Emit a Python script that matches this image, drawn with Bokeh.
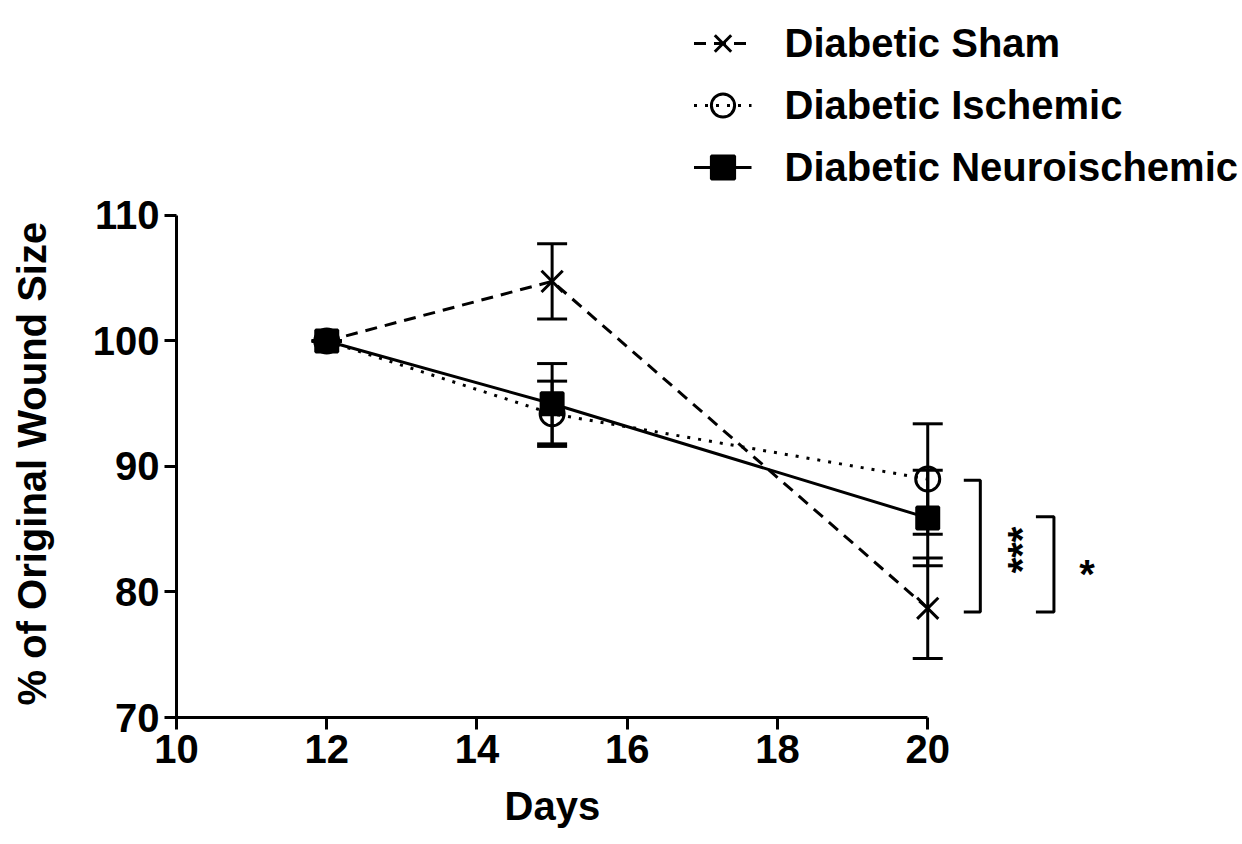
from bokeh.plotting import figure
from bokeh.models import (Range1d, FixedTicker, Whisker, TeeHead, ColumnDataSource,
                          Legend, LegendItem, Label, Title)
from bokeh.embed import file_html
from bokeh.resources import INLINE

# ---- data ----
days = [12, 15, 20]
sham_mean = [100.0, 104.75, 78.7]
sham_sem = [0.0, 3.0, 4.0]
isch_mean = [100.0, 94.2, 89.0]
isch_sem = [0.0, 2.6, 4.4]
neuro_mean = [100.0, 95.0, 85.9]
neuro_sem = [0.0, 3.2, 3.8]

x_ticks = [10, 12, 14, 16, 18, 20]
y_ticks = [70, 80, 90, 100, 110]
series_labels = ["Diabetic Sham", "Diabetic Ischemic", "Diabetic Neuroischemic"]
x_title = "Days"
y_title = "% of Original Wound Size"

# significance brackets (y from/to at day 20 comparisons)
bracket1 = [88.9, 78.4]
bracket2 = [86.0, 78.4]
sig_labels = ["***", "*"]

FONT = "Liberation Sans"
FS = "40px"

p = figure(width=1242, height=844, output_backend="svg", toolbar_location=None,
           x_range=Range1d(10, 24.19), y_range=Range1d(70, 126.33),
           min_border_left=176, min_border_right=0, min_border_top=10,
           min_border_bottom=127)
p.outline_line_color = None
p.grid.visible = False
p.background_fill_color = "white"

for ax in (p.xaxis[0], p.yaxis[0]):
    ax.axis_line_width = 3
    ax.major_tick_line_width = 3
    ax.major_tick_out = 12
    ax.major_tick_in = 0
    ax.minor_tick_line_color = None
    ax.major_label_text_font = FONT
    ax.major_label_text_font_style = "bold"
    ax.major_label_text_font_size = FS
    ax.major_label_text_color = "black"
    # invisible spacer label, pushes the title outward
    ax.axis_label = " "
    ax.axis_label_text_font_size = "1px"

p.xaxis.ticker = FixedTicker(ticks=x_ticks)
p.yaxis.ticker = FixedTicker(ticks=y_ticks)
p.xaxis.bounds = (10, 20)
p.yaxis.bounds = (70, 110)
p.xaxis.major_label_standoff = 5
p.yaxis.major_label_standoff = 5
p.xaxis.axis_label_standoff = 12
p.yaxis.axis_label_standoff = 32

# axis titles centred on the drawn axis extent (not the whole frame)
p.add_layout(Title(text=x_title, align="left", offset=328, standoff=0,
                   text_font=FONT, text_font_style="bold", text_font_size=FS,
                   text_color="black"), "below")
p.add_layout(Title(text=y_title, align="left", offset=12, standoff=0,
                   text_font=FONT, text_font_style="bold", text_font_size=FS,
                   text_color="black"), "left")

def add_series(mean, sem, dash, marker, size, fill):
    src = ColumnDataSource(dict(x=days, y=mean,
                                lo=[m - s for m, s in zip(mean, sem)],
                                hi=[m + s for m, s in zip(mean, sem)]))
    ln = p.line("x", "y", source=src, line_width=3, line_color="black", line_dash=dash)
    w = Whisker(base="x", lower="lo", upper="hi", source=src, line_width=3,
                line_color="black",
                upper_head=TeeHead(size=30, line_width=3, line_color="black"),
                lower_head=TeeHead(size=30, line_width=3, line_color="black"))
    p.add_layout(w)
    if fill:
        sc = p.scatter("x", "y", source=src, marker=marker, size=size,
                       line_color="black", fill_color="black", line_width=3)
    else:
        sc = p.scatter("x", "y", source=src, marker=marker, size=size,
                       line_color="black", fill_alpha=0, line_width=3)
    return ln, sc

r_sham = add_series(sham_mean, sham_sem, "12 8", "x", 30, False)
r_isch = add_series(isch_mean, isch_sem, "3 8", "circle", 24, False)
r_neuro = add_series(neuro_mean, neuro_sem, "solid", "square", 22, True)

# significance brackets
def bracket(xr, ylist):
    x0, x1 = xr
    p.line([x0, x1, x1, x0], [ylist[0], ylist[0], ylist[1], ylist[1]],
           line_width=3, line_color="black")

bracket((20.48, 20.70), bracket1)
bracket((21.44, 21.68), bracket2)
p.add_layout(Label(x=21.26, y=(bracket1[0] + bracket1[1]) / 2 - 0.3, text=sig_labels[0],
                   angle=1.5708, text_align="center", text_baseline="middle",
                   text_font=FONT, text_font_style="bold", text_font_size=FS,
                   text_color="black"))
p.add_layout(Label(x=22.12, y=81.4, text=sig_labels[1],
                   text_align="center", text_baseline="middle",
                   text_font=FONT, text_font_style="bold", text_font_size=FS,
                   text_color="black"))

legend = Legend(items=[
    LegendItem(label=series_labels[0], renderers=list(r_sham)),
    LegendItem(label=series_labels[1], renderers=list(r_isch)),
    LegendItem(label=series_labels[2], renderers=list(r_neuro)),
], location="top_right")
legend.border_line_color = None
legend.background_fill_alpha = 0
legend.label_text_font = FONT
legend.label_text_font_style = "bold"
legend.label_text_font_size = FS
legend.label_text_color = "black"
legend.glyph_width = 58
legend.glyph_height = 58
legend.spacing = 4
legend.padding = 0
legend.margin = 4
legend.label_standoff = 33
p.add_layout(legend)

open("out.html", "w").write(file_html(p, INLINE))
